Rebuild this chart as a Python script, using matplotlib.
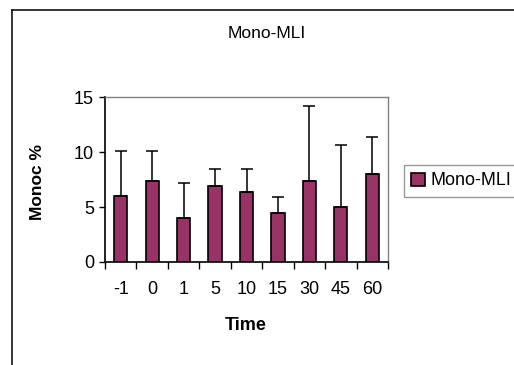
import matplotlib
matplotlib.use("Agg")
import matplotlib.pyplot as plt
from matplotlib.lines import Line2D
import numpy as np

plt.rcParams['font.family'] = ['Liberation Sans', 'DejaVu Sans']

times = ["-1", "0", "1", "5", "10", "15", "30", "45", "60"]
means = [6.0, 7.4, 4.0, 6.9, 6.4, 4.5, 7.4, 5.0, 8.0]
upper_err = [4.1, 2.7, 3.2, 1.6, 2.1, 1.45, 6.8, 5.6, 3.4]
series_name = "Mono-MLI"
bar_color = "#993366"

W, H = 514, 365
fig = plt.figure(figsize=(W / 100, H / 100), dpi=100)
ax = fig.add_axes([105 / W, 1 - 262 / H, 283 / W, 165 / H])

x = np.arange(len(times))
ax.bar(x, means, width=0.42, color=bar_color, edgecolor="black",
       linewidth=1.2, label=series_name, zorder=3)
ax.errorbar(x, means, yerr=[np.zeros(len(upper_err)), upper_err], fmt="none",
            ecolor="black", elinewidth=1.1, capsize=4.5, capthick=1.1, zorder=4)

ax.set_xlim(-0.5, len(times) - 0.5)
ax.set_ylim(0, 15)
ax.set_yticks([0, 5, 10, 15])
ax.set_xticks(x)
ax.set_xticklabels(times)
ax.set_xticks(np.arange(-0.5, len(times)), minor=True)
ax.tick_params(axis="x", which="major", length=0, pad=14, labelsize=13)
ax.tick_params(axis="x", which="minor", length=5, width=1, direction="out")
ax.tick_params(axis="y", length=4, width=1, direction="out", pad=4, labelsize=13)

for side in ("top", "right"):
    ax.spines[side].set_color("#808080")
    ax.spines[side].set_linewidth(1)
for side in ("left", "bottom"):
    ax.spines[side].set_color("black")
    ax.spines[side].set_linewidth(1.2)

fig.text(267 / W, 1 - 33 / H, series_name, ha="center", va="center", fontsize=12.5)
fig.text(38 / W, 1 - 182 / H, "Monoc %", ha="center", va="center",
         rotation=90, fontsize=12.5, fontweight="bold")
fig.text(246 / W, 1 - 326 / H, "Time", ha="center", va="center",
         fontsize=13, fontweight="bold")

# chart area border (left and top edges)
fig.add_artist(Line2D([12 / W, 12 / W], [0, 1 - 10 / H], transform=fig.transFigure,
                      color="black", linewidth=1.1))
fig.add_artist(Line2D([12 / W, 1], [1 - 10 / H, 1 - 10 / H], transform=fig.transFigure,
                      color="black", linewidth=1.1))

leg = fig.legend(loc="center left", bbox_to_anchor=(404 / W, 1 - 198 / H, 130 / W, 34 / H),
                 mode="expand", fontsize=13, frameon=True, fancybox=False,
                 handlelength=0.75, handleheight=0.75, handletextpad=0.3,
                 borderpad=0.4, borderaxespad=0)
leg.get_frame().set_edgecolor("#808080")
leg.get_frame().set_linewidth(1)

fig.savefig("out.png", dpi=100)
